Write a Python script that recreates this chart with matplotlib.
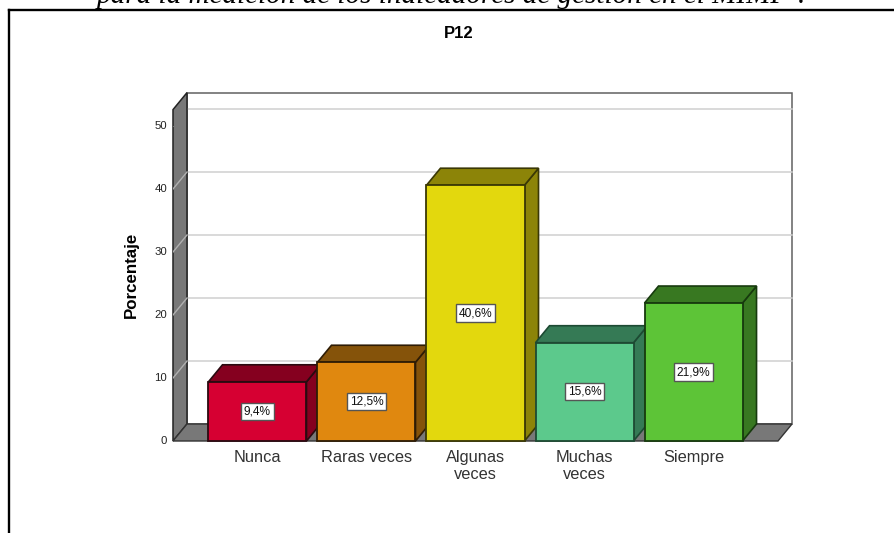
import matplotlib
matplotlib.use("Agg")
import matplotlib.pyplot as plt
from matplotlib.patches import Polygon
from matplotlib.lines import Line2D
from matplotlib.transforms import Affine2D

categories = ["Nunca", "Raras veces", "Algunas\nveces", "Muchas\nveces", "Siempre"]
values = [9.4, 12.5, 40.6, 15.6, 21.9]
labels = ["9,4%", "12,5%", "40,6%", "15,6%", "21,9%"]
yticks = [0, 10, 20, 30, 40, 50]
front_colors = ["#D60032", "#E0880F", "#E3D80D", "#5CC98C", "#5DC437"]
dark_colors = ["#85001F", "#85530A", "#8C8408", "#357A55", "#387821"]
edge_colors = ["#2A0A10", "#2E1C05", "#3A3805", "#1D4A33", "#173A0E"]

W, H = 894, 533
plt.rcParams["font.family"] = ["Liberation Sans", "DejaVu Sans"]
fig = plt.figure(figsize=(W / 100, H / 100), dpi=100)

def px_box(x0, y0, x1, y1):
    return [x0 / W, 1 - y1 / H, (x1 - x0) / W, (y1 - y0) / H]

ax = fig.add_axes(px_box(173, 126, 778, 441))
ax.set_xlim(-0.775, 4.775)
ax.set_ylim(0, 50)
ax.axis("off")

DX, DY = 14.0, 17.0
back = ax.transData + Affine2D().translate(DX, DY)
Y_TOP = 52.6
X0, X1 = ax.get_xlim()
WALL = "#787878"

def poly(points, face, edge, lw=1.0, z=2):
    # points: (x, y, depth) with depth 0 for front plane and 1 for back plane
    disp = []
    for x, y, d in points:
        px = ax.transData.transform((x, y))
        disp.append((px[0] + d * DX, px[1] + d * DY))
    p = Polygon(disp, closed=True, facecolor=face, edgecolor=edge, linewidth=lw,
                transform=None, zorder=z, clip_on=False, joinstyle="miter")
    ax.add_artist(p)

# back wall
poly([(X0, 0, 1), (X1, 0, 1), (X1, Y_TOP, 1), (X0, Y_TOP, 1)], "white", "#606060", 1.1, 1)
# left wall and floor
poly([(X0, 0, 0), (X0, 0, 1), (X0, Y_TOP, 1), (X0, Y_TOP, 0)], WALL, "#222222", 1.1, 2)
poly([(X0, 0, 0), (X1, 0, 0), (X1, 0, 1), (X0, 0, 1)], WALL, "#333333", 1.0, 2)

# gridlines
for t in yticks[1:]:
    ax.plot([X0, X1], [t, t], transform=back, color="#CFCFCF", lw=1.1, clip_on=False, zorder=1.5)
    pa = ax.transData.transform((X0, t))
    ax.add_artist(Line2D([pa[0], pa[0] + DX], [pa[1], pa[1] + DY], transform=None,
                         color="#B0B0B0", lw=1.0, zorder=3))

# bars
BW = 98 / 109
for i, v in enumerate(values):
    l, r = i - BW / 2, i + BW / 2
    z = 4 + i * 0.1
    poly([(r, 0, 0), (r, 0, 1), (r, v, 1), (r, v, 0)], dark_colors[i], edge_colors[i], 1.2, z)
    poly([(l, v, 0), (r, v, 0), (r, v, 1), (l, v, 1)], dark_colors[i], edge_colors[i], 1.2, z)
    ax.bar(i, v, width=BW, color=front_colors[i], edgecolor=edge_colors[i], linewidth=1.3,
           zorder=z + 0.01, clip_on=False)
    ax.text(i, v / 2, labels[i], ha="center", va="center", fontsize=8.6, color="#111111", zorder=9,
            bbox=dict(boxstyle="square,pad=0.22", fc="white", ec="#555555", lw=1.0))

# y tick labels
for t in yticks:
    ax.annotate(str(t), (X0, t), xytext=(-6, 0), textcoords="offset pixels", ha="right", va="center",
                fontsize=8.2, color="#222222", annotation_clip=False)

# category labels
for i, c in enumerate(categories):
    ax.annotate(c, (i, 0), xytext=(0, -9), textcoords="offset pixels", ha="center", va="top",
                fontsize=11.8, color="#333333", linespacing=1.2, annotation_clip=False)

fig.text(131 / W, 1 - 275 / H, "Porcentaje", rotation=90, ha="center", va="center",
         fontsize=12.2, fontweight="bold", color="black")
fig.text(459 / W, 1 - 34 / H, "P12", ha="center", va="center", fontsize=12,
         fontweight="bold", color="black")

# outer frame
fig.add_artist(Line2D([9 / W, 9 / W], [0, 1 - 10 / H], color="black", lw=1.7))
fig.add_artist(Line2D([9 / W, 1], [1 - 10 / H, 1 - 10 / H], color="black", lw=1.7))

# clipped caption above the frame
fig.text(453 / W, 1 - 3 / H, "para la medición de los indicadores de gestión en el MIMP ?",
         ha="center", va="baseline", family="Liberation Serif", style="italic",
         fontsize=21, color="black")

fig.savefig("out.png", dpi=100)
